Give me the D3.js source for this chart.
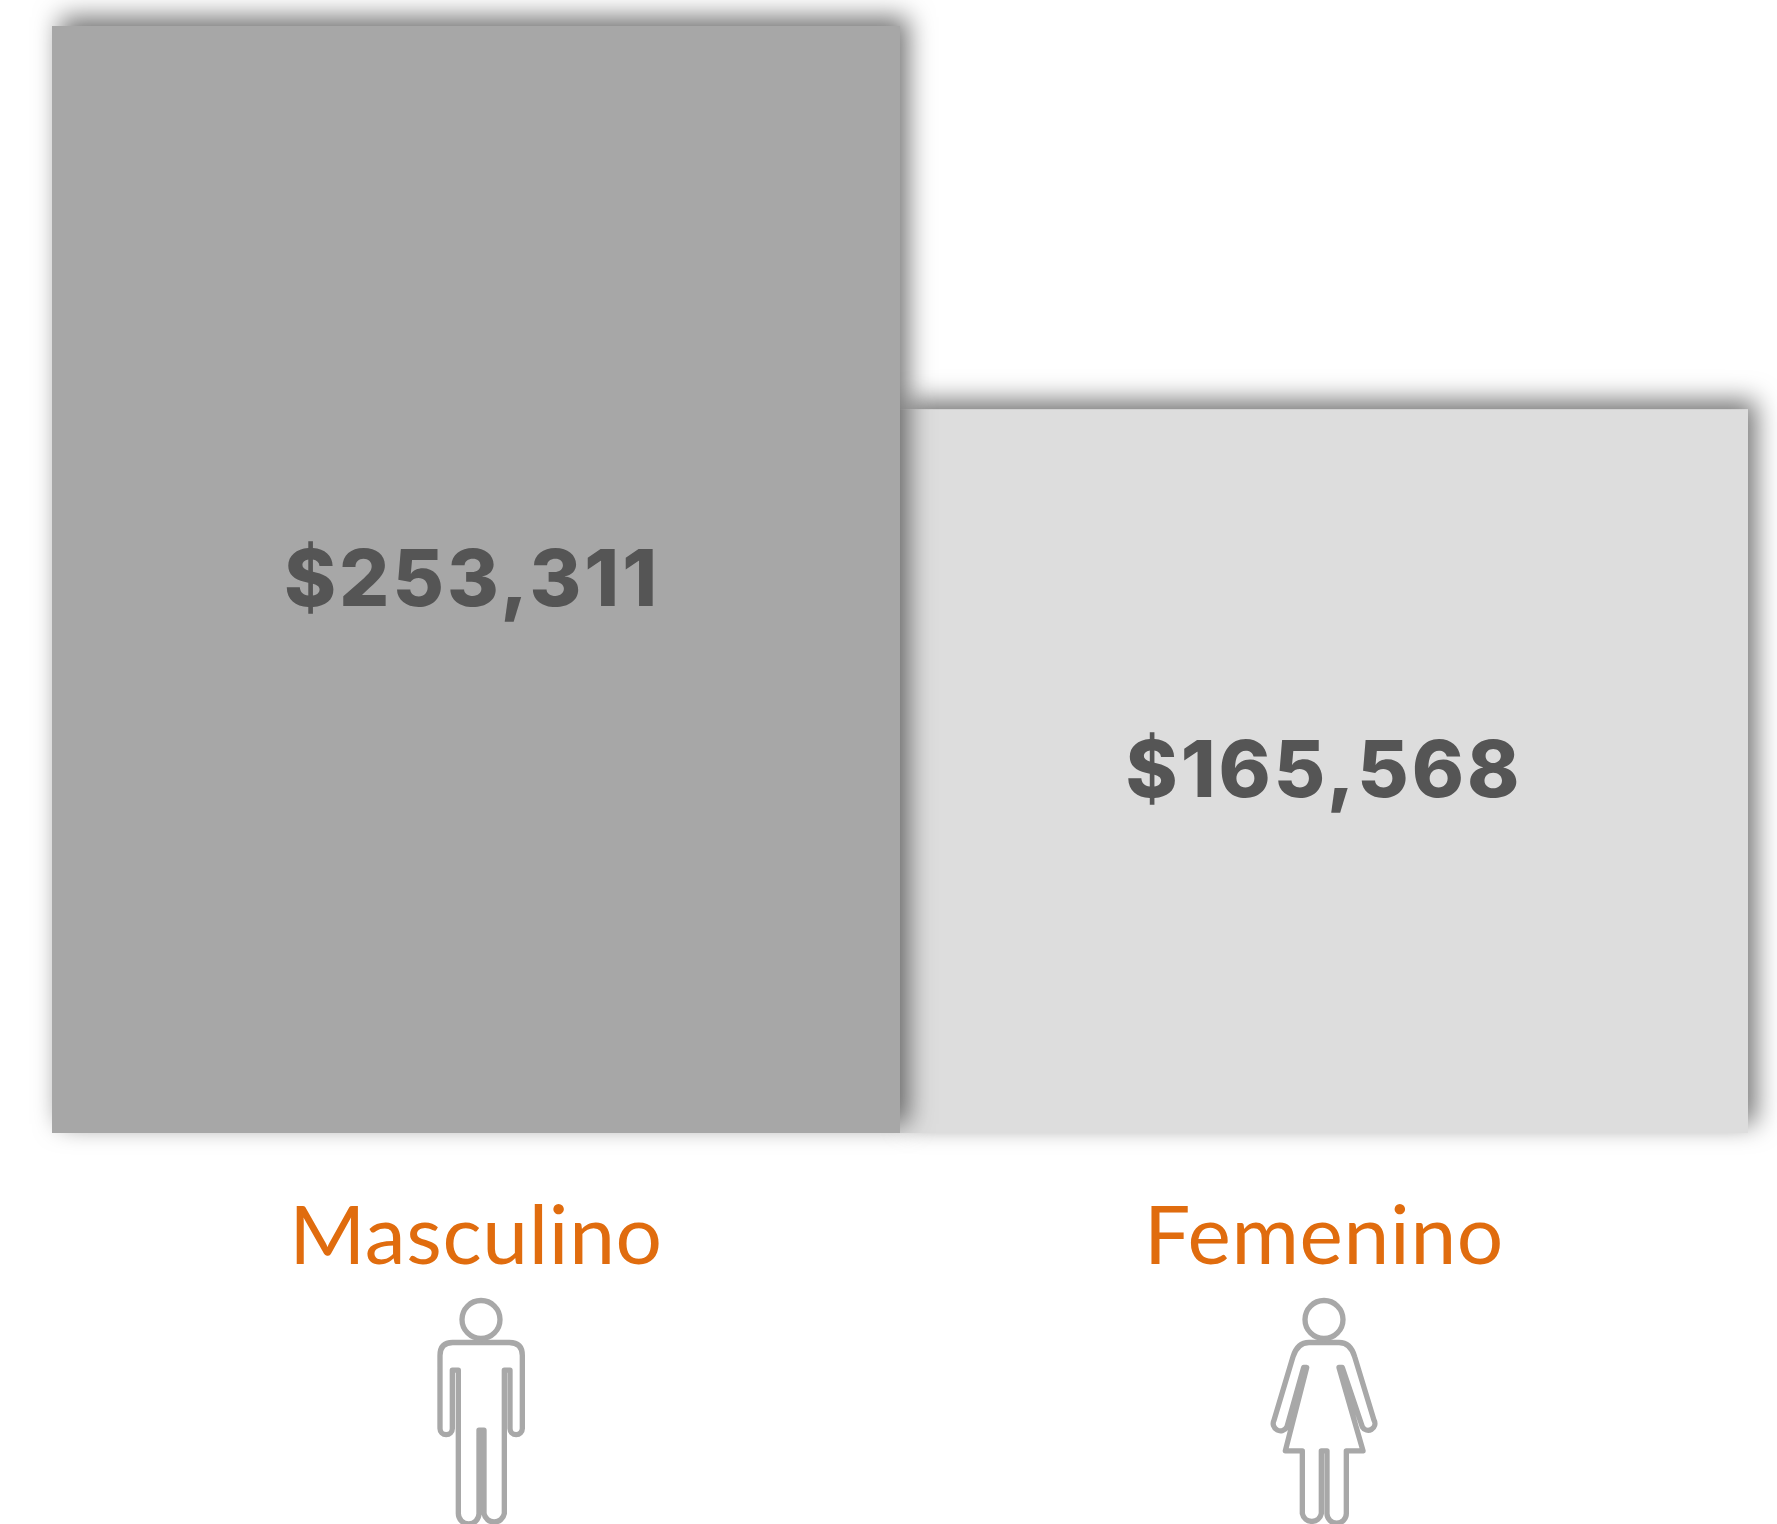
<!DOCTYPE html>
<html lang="es">
<head>
<meta charset="UTF-8">
<title>Masculino / Femenino</title>
<script src="https://d3js.org/d3.v7.min.js"></script>
<style>
    html, body { margin: 0; padding: 0; background: #fff; overflow: hidden; }
    svg { display: block; }
    .value { font-family: Inter, sans-serif; font-weight: 800; font-size: 79px; letter-spacing: 3px; fill: #555555; text-anchor: middle; }
    .cat { font-family: Lato, sans-serif; font-weight: 400; font-size: 82px; letter-spacing: 0.7px; fill: #e06c0e; text-anchor: middle; }
    .icon { fill: none; stroke: #a8a8a8; stroke-width: 16; stroke-linejoin: round; stroke-linecap: round; }
</style>
</head>
<body>
<script>
    const categories = ['Masculino', 'Femenino'];
    const values = [253311, 165568];
    const valueLabels = ['$253,311', '$165,568'];
    const barColors = ['#a7a7a7', '#dddddd'];

    // pictogram outlines, origin is the centre of the head
    const manIcon = 'M-85 69H85Q124 69 124 108V327A18 18 0 0 1 87 327V152H70V582A31 31 0 0 1 9 582V332H-6V582A31 31 0 0 1-68 582V152H-86V327A18 18 0 0 1-123 327V108Q-123 69-85 69Z';
    const womanIcon = 'M-45 69H45Q80 69 92 112L150 302A18 18 0 0 1 115 322L55 144H45L117 394H67V582A29 29 0 0 1 9 582V394H-8V582A29 29 0 0 1-65 582V394H-116L-52 144H-61L-111 322A18 18 0 0 1-150 302L-93 112Q-80 69-45 69Z';
    const icons = [manIcon, womanIcon];

    const width = 1777, height = 1524;

    const svg = d3.select('body').append('svg')
        .attr('width', width)
        .attr('height', height);

    const filter = svg.append('defs').append('filter')
        .attr('id', 'shadow')
        .attr('x', '-10%').attr('y', '-10%')
        .attr('width', '120%').attr('height', '120%');
    filter.append('feDropShadow')
        .attr('dx', 8).attr('dy', -9)
        .attr('stdDeviation', 13)
        .attr('flood-color', '#000')
        .attr('flood-opacity', 0.55);

    const x = d3.scaleBand().domain(categories).range([52, 1748]);
    const y = d3.scaleLinear().domain([0, d3.max(values)]).range([1133, 26]);

    // right bar first, the left bar's shadow falls on it
    const order = [1, 0];
    svg.selectAll('rect')
        .data(order)
        .enter()
        .append('rect')
        .attr('x', i => x(categories[i]))
        .attr('y', i => y(values[i]))
        .attr('width', x.bandwidth())
        .attr('height', i => y(0) - y(values[i]))
        .attr('fill', i => barColors[i])
        .attr('filter', 'url(#shadow)');

    const mid = c => x(c) + x.bandwidth() / 2;

    svg.selectAll('.value')
        .data(categories)
        .enter()
        .append('text')
        .attr('class', 'value')
        .attr('x', (d, i) => mid(d) + (i === 0 ? -4 : 0))
        .attr('y', (d, i) => (y(values[i]) + y(0)) / 2 + 26)
        .text((d, i) => valueLabels[i]);

    svg.selectAll('.cat')
        .data(categories)
        .enter()
        .append('text')
        .attr('class', 'cat')
        .attr('x', d => mid(d))
        .attr('y', 1264)
        .text(d => d);

    svg.selectAll('.icon')
        .data(categories)
        .enter()
        .append('path')
        .attr('class', 'icon')
        .attr('transform', (d, i) => `translate(${mid(d) + (i === 0 ? 5 : 0)},1319.5) scale(${1 / 3})`)
        .attr('d', (d, i) => icons[i]);

    svg.append('g').selectAll('circle')
        .data(categories)
        .enter()
        .append('circle')
        .attr('class', 'icon')
        .attr('transform', (d, i) => `translate(${mid(d) + (i === 0 ? 5 : 0)},1319.5) scale(${1 / 3})`)
        .attr('r', 57);
</script>
</body>
</html>
